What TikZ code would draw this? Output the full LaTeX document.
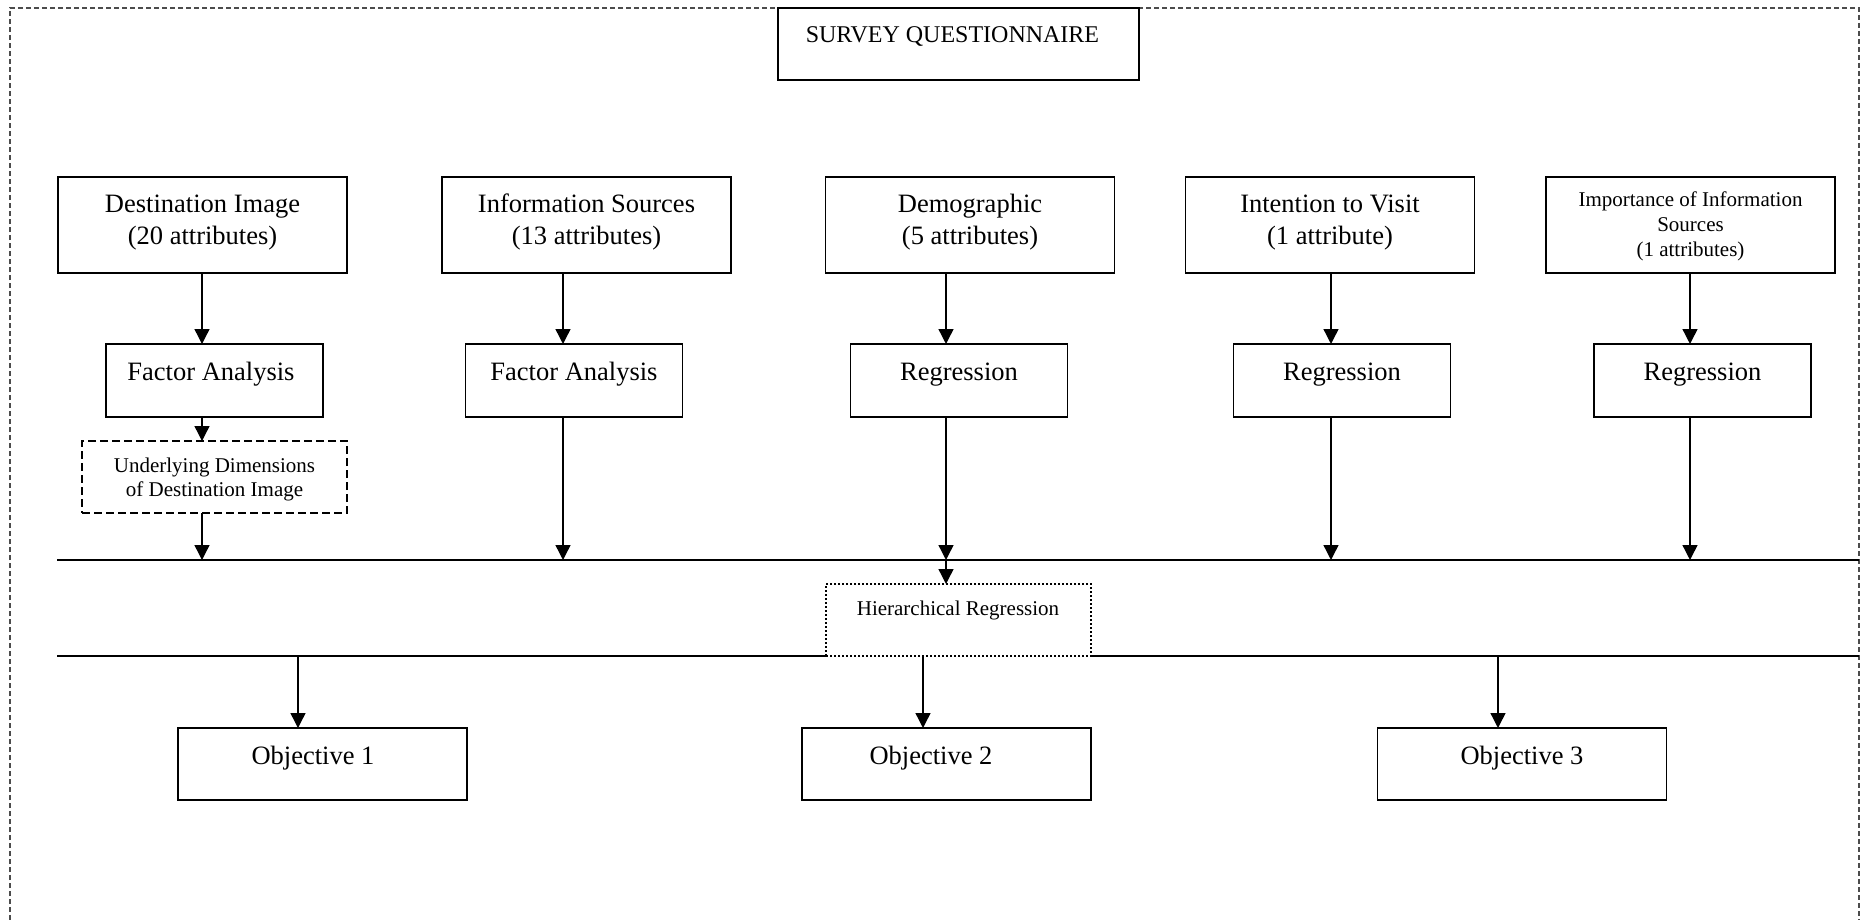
\documentclass[tikz,border=0pt]{standalone}
\usepackage{fontspec}
\setmainfont{Liberation Serif}
\usetikzlibrary{arrows.meta}
\begin{document}
\begin{tikzpicture}[x=1pt,y=-1pt,
  box/.style={draw, line width=1.5pt, inner sep=0pt, outer sep=0pt, fill=white},
  topbox/.style={box, minimum width=289pt, minimum height=96pt},
  midbox/.style={box, minimum width=217pt, minimum height=73pt},
  objbox/.style={box, minimum width=289pt, minimum height=72pt},
  dashbox/.style={box, dash pattern=on 8pt off 4pt, minimum width=265pt, minimum height=72pt},
  dotbox/.style={box, line width=2pt, dash pattern=on 2pt off 2pt, minimum width=265pt, minimum height=72pt},
  arr/.style={line width=1.4pt, -{Triangle[width=15pt,length=15pt]}},
  hline/.style={line width=1.5pt},
  border/.style={black!70, line width=1.1pt, dash pattern=on 5pt off 3pt},
  bigtxt/.style={font=\fontsize{26.5}{29}\selectfont, inner sep=0pt, anchor=base, align=center},
  smalltxt/.style={font=\fontsize{21}{24.5}\selectfont, inner sep=0pt, anchor=base, align=center},
  survtxt/.style={font=\fontsize{24}{28}\selectfont, inner sep=0pt, anchor=base, align=center}
]
\useasboundingbox (0,0) rectangle (1866,920);
% outer dashed frame (open at bottom)
\coordinate (fbl) at (10,920);
\coordinate (ftl) at (10,8);
\coordinate (ftr) at (1859,8);
\coordinate (fbr) at (1859,920);
\draw[border] (fbl) -- (ftl) -- (ftr) -- (fbr);

% survey
\node[box, minimum width=361pt, minimum height=72pt] (sq) at (958.5,44) {};
\node[survtxt] (sqt) at (952.5,43) {SURVEY QUESTIONNAIRE};

% top row
\node[topbox] (t1) at (202.5,225) {};
\node[topbox] (t2) at (586.5,225) {};
\node[topbox] (t3) at (970,225) {};
\node[topbox] (t4) at (1330,225) {};
\node[topbox] (t5) at (1690.5,225) {};
\node[bigtxt] (t1a) at (202.5,213) {Destination Image};
\node[bigtxt] (t1b) at (202.5,244) {(20 attributes)};
\node[bigtxt] (t2a) at (586.5,213) {Information Sources};
\node[bigtxt] (t2b) at (586.5,244) {(13 attributes)};
\node[bigtxt] (t3a) at (970,213) {Demographic};
\node[bigtxt] (t3b) at (970,244) {(5 attributes)};
\node[bigtxt] (t4a) at (1330,213) {Intention to Visit};
\node[bigtxt] (t4b) at (1330,244) {(1 attribute)};
\node[smalltxt] (t5a) at (1690.5,207) {Importance of Information};
\node[smalltxt] (t5b) at (1690.5,232) {Sources};
\node[smalltxt] (t5c) at (1690.5,256) {(1 attributes)};

% second row
\node[midbox] (m1) at (214.5,380.5) {};
\node[midbox] (m2) at (574,380.5) {};
\node[midbox] (m3) at (959,380.5) {};
\node[midbox] (m4) at (1342,380.5) {};
\node[midbox] (m5) at (1702.5,380.5) {};
\node[bigtxt] (m1t) at (211,380) {Factor Analysis};
\node[bigtxt] (m2t) at (574,380) {Factor Analysis};
\node[bigtxt] (m3t) at (959,380) {Regression};
\node[bigtxt] (m4t) at (1342,380) {Regression};
\node[bigtxt] (m5t) at (1702.5,380) {Regression};

% underlying dimensions
\node[dashbox] (ud) at (214.5,477) {};
\node[smalltxt] (uda) at (214.5,472) {Underlying Dimensions};
\node[smalltxt] (udb) at (214.5,496) {of Destination Image};

% column x positions
\coordinate (x1) at (202,0);
\coordinate (x2) at (563,0);
\coordinate (x3) at (946,0);
\coordinate (x4) at (1331,0);
\coordinate (x5) at (1690,0);
\coordinate (y1) at (0,560);
\coordinate (y2) at (0,656);

% horizontal bars
\coordinate (l1w) at (57,560);
\coordinate (l1e) at (1859,560);
\draw[hline] (l1w) -- (l1e);

% hierarchical regression
\node[dotbox] (hr) at (958.5,620) {};
\node[smalltxt] (hrt) at (958,615) {Hierarchical Regression};
\coordinate (l2w) at (57,656);
\coordinate (l2e) at (1859,656);
\draw[hline] (l2w) -- (hr.south west);
\draw[hline] (hr.south east) -- (l2e);

% objectives
\node[objbox] (o1) at (322.5,764) {};
\node[objbox] (o2) at (946.5,764) {};
\node[objbox] (o3) at (1522,764) {};
\node[bigtxt] (o1t) at (313,764) {Objective 1};
\node[bigtxt] (o2t) at (931,764) {Objective 2};
\node[bigtxt] (o3t) at (1522,764) {Objective 3};

% arrows top -> mid
\draw[arr] (x1 |- t1.south) -- (x1 |- m1.north);
\draw[arr] (x2 |- t2.south) -- (x2 |- m2.north);
\draw[arr] (x3 |- t3.south) -- (x3 |- m3.north);
\draw[arr] (x4 |- t4.south) -- (x4 |- m4.north);
\draw[arr] (x5 |- t5.south) -- (x5 |- m5.north);
% mid -> bar
\draw[arr] (x1 |- m1.south) -- (x1 |- ud.north);
\draw[arr] (x1 |- ud.south) -- (x1 |- y1);
\draw[arr] (x2 |- m2.south) -- (x2 |- y1);
\draw[arr] (x3 |- m3.south) -- (x3 |- y1);
\draw[arr] (x4 |- m4.south) -- (x4 |- y1);
\draw[arr] (x5 |- m5.south) -- (x5 |- y1);
% bar -> hierarchical
\draw[arr] (x3 |- y1) -- (x3 |- hr.north);
% bar2 -> objectives
\coordinate (ox1) at (298,0);
\coordinate (ox2) at (923,0);
\coordinate (ox3) at (1498,0);
\draw[arr] (ox1 |- y2) -- (ox1 |- o1.north);
\draw[arr] (ox2 |- y2) -- (ox2 |- o2.north);
\draw[arr] (ox3 |- y2) -- (ox3 |- o3.north);
\end{tikzpicture}
\end{document}
